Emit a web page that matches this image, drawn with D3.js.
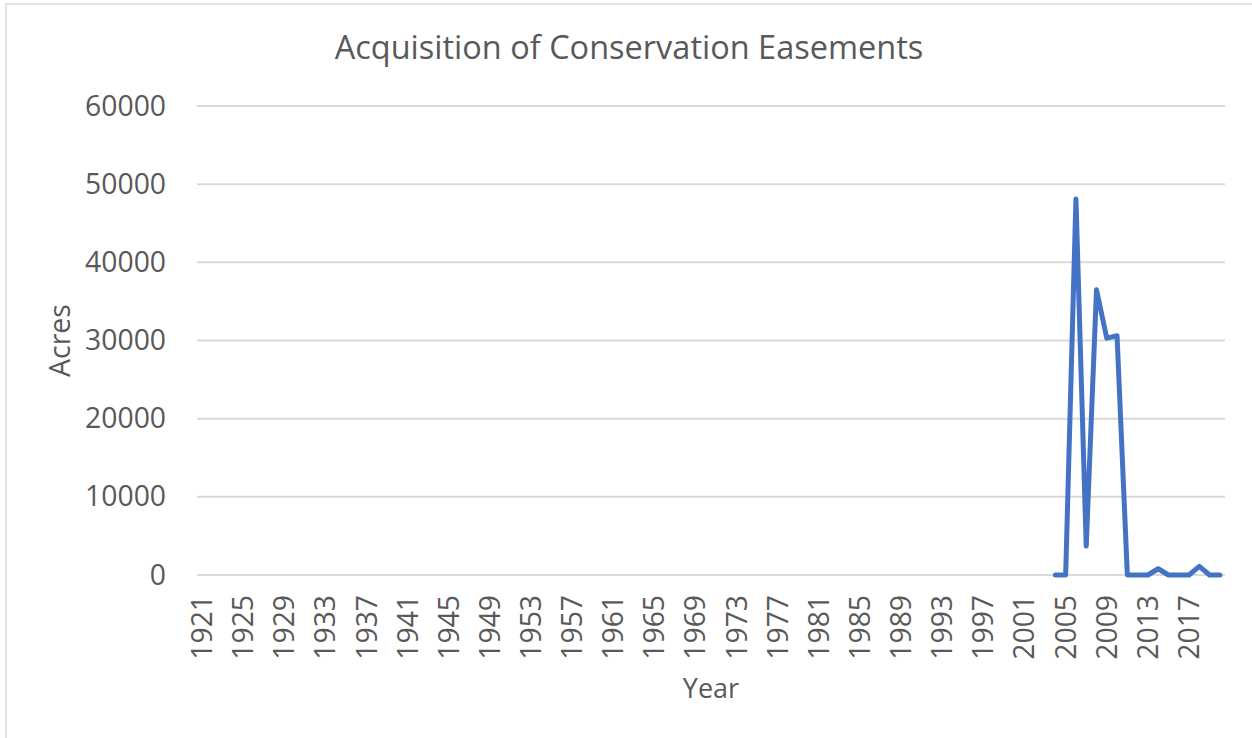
<!DOCTYPE html>
<html>
<head>
<meta charset="utf-8">
<script src="https://cdn.jsdelivr.net/npm/d3@7"></script>
<style>
  html, body { margin: 0; padding: 0; background: #fff; }
  svg { display: block; }
  text { font-family: "Open Sans", "Noto Sans", sans-serif; fill: #595959; }
</style>
</head>
<body>
<svg id="chart" width="1252" height="738"></svg>
<script>
// Years shown on the category axis (1921–2020)
const years = d3.range(1921, 2021);
// Years with recorded acquisitions and their acreage
const dataYears = [2004, 2005, 2006, 2007, 2008, 2009, 2010, 2011, 2012, 2013, 2014, 2015, 2016, 2017, 2018, 2019, 2020];
const acres     = [0,    0,    48100, 3700, 36500, 30300, 30600, 0,  0,    0,    800,  0,    0,    0,    1100, 0,    0];
// Value axis ticks
const yTicks = [0, 10000, 20000, 30000, 40000, 50000, 60000];
// Every fourth year gets a label
const xTickLabels = years.filter((y, i) => i % 4 === 0);

const svg = d3.select("#chart");
const W = 1252, H = 738;
const plot = { left: 197, right: 1225, top: 106, bottom: 575 };

// Chart frame
svg.append("rect")
  .attr("x", 6).attr("y", 4)
  .attr("width", W + 10).attr("height", H + 10)
  .attr("fill", "#fff")
  .attr("stroke", "#d9d9d9").attr("stroke-width", 1.5);

const x = d3.scaleBand().domain(years).range([plot.left, plot.right]);
const y = d3.scaleLinear().domain([0, 60000]).range([plot.bottom, plot.top]);

// Horizontal gridlines
svg.append("g")
  .selectAll("line")
  .data(yTicks)
  .join("line")
  .attr("x1", plot.left).attr("x2", plot.right)
  .attr("y1", d => y(d)).attr("y2", d => y(d))
  .attr("stroke", "#d9d9d9").attr("stroke-width", 2);

// Value axis labels
const yAxis = d3.axisLeft(y).tickValues(yTicks).tickSize(0).tickPadding(0)
  .tickFormat(d3.format("d"));
const gy = svg.append("g").attr("transform", `translate(${plot.left - 31},0)`).call(yAxis);
gy.select(".domain").remove();
gy.selectAll("text")
  .attr("font-size", 28.3)
  .attr("fill", "#595959")
  .attr("font-family", "Open Sans");

// Category axis labels (rotated)
const xAxis = d3.axisBottom(x).tickValues(xTickLabels).tickSize(0).tickPadding(0);
const gx = svg.append("g").attr("transform", `translate(0,${plot.bottom})`).call(xAxis);
gx.select(".domain").remove();
gx.selectAll("text")
  .attr("font-size", 28.3)
  .attr("fill", "#595959")
  .attr("font-family", "Open Sans")
  .attr("text-anchor", "end")
  .attr("dy", "0.35em")
  .attr("transform", "translate(0,20) rotate(-90)")
  .attr("x", 0).attr("y", 0);

// Data line
const pts = dataYears.map((yr, i) => ({ yr, v: acres[i] }));
const line = d3.line()
  .x(d => x(d.yr) + x.bandwidth() / 2)
  .y(d => y(d.v));
svg.append("path")
  .datum(pts)
  .attr("d", line)
  .attr("fill", "none")
  .attr("stroke", "#4472C4")
  .attr("stroke-width", 5)
  .attr("stroke-linejoin", "round")
  .attr("stroke-linecap", "round");

// Title
svg.append("text")
  .attr("x", 629).attr("y", 59)
  .attr("text-anchor", "middle")
  .attr("font-size", 32.5)
  .text("Acquisition of Conservation Easements");

// Axis titles
svg.append("text")
  .attr("transform", `translate(70,${(plot.top + plot.bottom) / 2}) rotate(-90)`)
  .attr("text-anchor", "middle")
  .attr("font-size", 28.5)
  .text("Acres");

svg.append("text")
  .attr("x", (plot.left + plot.right) / 2).attr("y", 698)
  .attr("text-anchor", "middle")
  .attr("font-size", 27)
  .text("Year");
</script>
</body>
</html>
